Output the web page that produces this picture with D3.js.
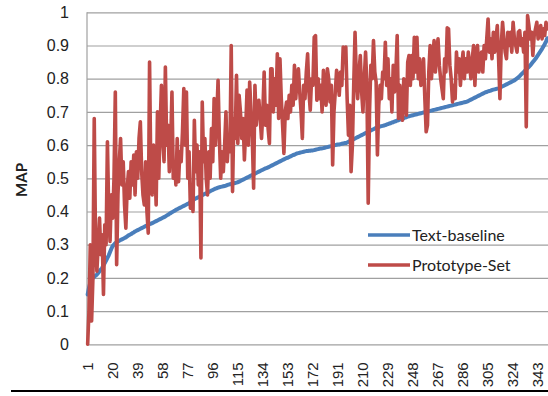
<!DOCTYPE html>
<html>
<head>
<meta charset="utf-8">
<script src="https://cdn.jsdelivr.net/npm/d3@7"></script>
<style>
  html, body { margin: 0; padding: 0; background: #fff; }
  svg { display: block; font-family: Lato, "Open Sans", sans-serif; }
</style>
</head>
<body>
<div id="chart"></div>
<script>
// Sorted text-baseline MAP per query (350 queries)
const textBaseline = [
  0.150,0.170,0.185,0.195,0.200,0.203,0.207,0.210,0.215,0.220,
  0.225,0.230,0.238,0.245,0.252,0.260,0.268,0.278,0.288,0.296,
  0.300,0.305,0.308,0.310,0.312,0.314,0.316,0.318,0.320,0.322,
  0.325,0.328,0.330,0.332,0.335,0.337,0.340,0.342,0.344,0.346,
  0.348,0.350,0.352,0.354,0.356,0.358,0.360,0.362,0.363,0.365,
  0.367,0.369,0.371,0.373,0.375,0.377,0.379,0.381,0.383,0.385,
  0.388,0.390,0.393,0.395,0.398,0.400,0.402,0.405,0.407,0.409,
  0.411,0.413,0.415,0.417,0.419,0.421,0.423,0.425,0.428,0.431,
  0.435,0.437,0.439,0.441,0.443,0.445,0.447,0.449,0.451,0.453,
  0.455,0.457,0.459,0.461,0.463,0.465,0.467,0.469,0.470,0.472,
  0.473,0.474,0.475,0.476,0.477,0.478,0.480,0.481,0.482,0.483,
  0.484,0.485,0.486,0.487,0.488,0.490,0.492,0.494,0.496,0.498,
  0.500,0.502,0.504,0.506,0.508,0.510,0.512,0.514,0.516,0.518,
  0.520,0.522,0.524,0.526,0.528,0.530,0.531,0.533,0.535,0.537,
  0.539,0.541,0.543,0.545,0.547,0.549,0.551,0.553,0.555,0.557,
  0.559,0.561,0.562,0.564,0.566,0.568,0.570,0.571,0.573,0.575,
  0.576,0.577,0.578,0.579,0.580,0.581,0.582,0.582,0.583,0.583,
  0.584,0.584,0.585,0.586,0.587,0.588,0.589,0.590,0.590,0.591,
  0.592,0.593,0.594,0.595,0.596,0.597,0.598,0.599,0.600,0.601,
  0.602,0.602,0.603,0.604,0.605,0.606,0.606,0.608,0.610,0.612,
  0.614,0.616,0.618,0.620,0.622,0.624,0.626,0.628,0.630,0.632,
  0.634,0.636,0.638,0.640,0.642,0.644,0.646,0.648,0.650,0.652,
  0.654,0.655,0.656,0.657,0.658,0.659,0.660,0.662,0.663,0.665,
  0.666,0.668,0.669,0.671,0.672,0.674,0.675,0.677,0.678,0.680,
  0.681,0.683,0.684,0.686,0.687,0.688,0.689,0.690,0.691,0.692,
  0.693,0.694,0.695,0.696,0.697,0.698,0.699,0.700,0.701,0.702,
  0.703,0.704,0.705,0.706,0.707,0.708,0.709,0.710,0.711,0.712,
  0.713,0.714,0.715,0.716,0.717,0.718,0.719,0.720,0.721,0.722,
  0.723,0.724,0.725,0.726,0.727,0.728,0.729,0.730,0.731,0.733,
  0.735,0.737,0.739,0.741,0.743,0.745,0.747,0.749,0.751,0.753,
  0.755,0.757,0.759,0.760,0.762,0.763,0.764,0.766,0.767,0.768,
  0.769,0.770,0.771,0.773,0.775,0.777,0.779,0.781,0.783,0.785,
  0.787,0.789,0.791,0.793,0.795,0.798,0.801,0.804,0.808,0.812,
  0.816,0.820,0.824,0.828,0.832,0.836,0.840,0.845,0.850,0.855,
  0.860,0.866,0.872,0.878,0.884,0.890,0.897,0.904,0.912,0.922
];

// Prototype-Set MAP for the same queries
const prototypeSet = [
  0.00,0.10,0.30,0.07,0.20,0.68,0.30,0.22,0.30,0.38,
  0.27,0.33,0.15,0.36,0.30,0.61,0.40,0.31,0.45,0.38,
  0.50,0.76,0.24,0.45,0.55,0.62,0.48,0.55,0.42,0.35,
  0.47,0.52,0.44,0.55,0.48,0.57,0.45,0.58,0.50,0.62,
  0.67,0.52,0.45,0.42,0.55,0.40,0.335,0.85,0.50,0.45,
  0.60,0.55,0.42,0.70,0.50,0.65,0.78,0.62,0.55,0.835,
  0.60,0.66,0.52,0.60,0.76,0.50,0.55,0.48,0.62,0.49,
  0.58,0.55,0.64,0.77,0.60,0.76,0.50,0.58,0.41,0.45,
  0.40,0.675,0.52,0.60,0.48,0.58,0.26,0.73,0.55,0.62,
  0.50,0.45,0.58,0.50,0.65,0.55,0.74,0.60,0.68,0.795,
  0.62,0.50,0.58,0.52,0.60,0.70,0.55,0.62,0.58,0.90,
  0.46,0.68,0.62,0.81,0.605,0.75,0.70,0.62,0.68,0.555,
  0.65,0.766,0.60,0.79,0.70,0.62,0.47,0.78,0.66,0.72,
  0.735,0.68,0.62,0.70,0.82,0.66,0.72,0.65,0.605,0.83,
  0.83,0.70,0.80,0.72,0.875,0.68,0.86,0.74,0.66,0.575,
  0.70,0.73,0.68,0.75,0.70,0.78,0.72,0.84,0.74,0.80,
  0.83,0.76,0.70,0.62,0.78,0.74,0.82,0.875,0.76,0.705,
  0.80,0.78,0.925,0.93,0.735,0.80,0.74,0.78,0.70,0.825,
  0.76,0.72,0.83,0.80,0.73,0.78,0.54,0.70,0.76,0.825,
  0.80,0.75,0.82,0.78,0.895,0.86,0.895,0.74,0.63,0.72,
  0.52,0.60,0.78,0.94,0.80,0.74,0.82,0.87,0.76,0.70,
  0.80,0.88,0.78,0.425,0.70,0.84,0.80,0.915,0.82,0.79,
  0.57,0.72,0.78,0.74,0.82,0.80,0.91,0.78,0.86,0.74,
  0.80,0.70,0.84,0.76,0.82,0.93,0.68,0.78,0.70,0.675,
  0.80,0.74,0.69,0.85,0.87,0.78,0.87,0.80,0.925,0.82,
  0.925,0.80,0.86,0.78,0.80,0.86,0.74,0.64,0.66,0.82,
  0.90,0.80,0.86,0.915,0.82,0.88,0.92,0.84,0.80,0.77,
  0.74,0.86,0.82,0.953,0.95,0.84,0.80,0.73,0.78,0.74,
  0.88,0.82,0.86,0.78,0.84,0.88,0.80,0.86,0.82,0.88,
  0.84,0.80,0.86,0.90,0.78,0.88,0.90,0.82,0.85,0.88,
  0.82,0.90,0.86,0.92,0.98,0.88,0.92,0.86,0.94,0.88,
  0.92,0.96,0.86,0.74,0.90,0.97,0.92,0.88,0.86,0.94,
  0.90,0.94,0.88,0.97,0.92,0.90,0.88,0.94,0.945,0.90,
  0.92,0.88,0.94,0.655,0.99,0.96,0.92,0.94,0.87,0.93,
  0.95,0.97,0.92,0.94,0.96,0.92,0.95,0.93,0.97,0.95
];

const categories = d3.range(1, textBaseline.length + 1);
const xTickLabels = [1, 20, 39, 58, 77, 96, 115, 134, 153, 172, 191, 210, 229, 248, 267, 286, 305, 324, 343];
const yTicks = [0, 0.1, 0.2, 0.3, 0.4, 0.5, 0.6, 0.7, 0.8, 0.9, 1];

const series = [
  { name: 'Text-baseline', values: textBaseline, color: '#4a7ebb', width: 4 },
  { name: 'Prototype-Set', values: prototypeSet, color: '#be4b48', width: 3.6 }
];

const width = 548, height = 396;
const plot = { left: 87, right: 548, top: 12.3, bottom: 344.3 };

const svg = d3.select('#chart').append('svg')
  .attr('width', width)
  .attr('height', height);

const x = d3.scaleBand()
  .domain(categories)
  .range([plot.left, plot.right])
  .paddingInner(0);
const xc = (c) => x(c) + x.bandwidth() / 2;

const y = d3.scaleLinear().domain([0, 1]).range([plot.bottom, plot.top]);

// Gridlines + y axis
const yAxis = svg.append('g')
  .attr('transform', `translate(${plot.left},0)`)
  .call(d3.axisLeft(y)
    .tickValues(yTicks)
    .tickSize(-(plot.right - plot.left))
    .tickPadding(18)
    .tickFormat(d3.format('')));
yAxis.select('.domain').remove();
yAxis.selectAll('.tick line').attr('stroke', '#a0a0a0').attr('stroke-width', 1.2);
yAxis.selectAll('.tick text')
  .attr('font-size', 16)
  .attr('fill', '#222');

// Left axis line
svg.append('line')
  .attr('x1', plot.left).attr('x2', plot.left)
  .attr('y1', plot.top).attr('y2', plot.bottom)
  .attr('stroke', '#a0a0a0').attr('stroke-width', 1.2);

// X axis labels (rotated)
const xAxis = svg.append('g')
  .attr('transform', `translate(0,${plot.bottom})`)
  .call(d3.axisBottom(x)
    .tickValues(xTickLabels)
    .tickSize(0)
    .tickPadding(0));
xAxis.select('.domain').remove();
xAxis.selectAll('.tick text')
  .attr('font-size', 15)
  .attr('fill', '#222')
  .attr('text-anchor', 'end')
  .attr('transform', 'rotate(-90)')
  .attr('x', -18)
  .attr('y', 0)
  .attr('dy', '0.35em');

// Lines
const line = d3.line()
  .x((d, i) => xc(categories[i]))
  .y((d) => y(d));

series.forEach((s) => {
  svg.append('path')
    .datum(s.values)
    .attr('fill', 'none')
    .attr('stroke', s.color)
    .attr('stroke-width', s.width)
    .attr('stroke-linejoin', 'round')
    .attr('stroke-linecap', 'round')
    .attr('d', line);
});

// Y axis title
svg.append('text')
  .attr('transform', 'translate(27,180) rotate(-90)')
  .attr('text-anchor', 'middle')
  .attr('font-size', 15)
  .attr('font-weight', 'bold')
  .attr('fill', '#222')
  .text('MAP');

// Legend
const legend = svg.append('g').attr('transform', 'translate(368,235)');
series.forEach((s, i) => {
  const g = legend.append('g').attr('transform', `translate(0,${i * 30})`);
  g.append('line')
    .attr('x1', 0).attr('x2', 42)
    .attr('stroke', s.color)
    .attr('stroke-width', 3.5);
  g.append('text')
    .attr('x', 44)
    .attr('dy', '0.35em')
    .attr('font-size', 16)
    .attr('fill', '#222')
    .text(s.name);
});

// Page border line under the figure
svg.append('line')
  .attr('x1', 11).attr('x2', width)
  .attr('y1', 391).attr('y2', 391)
  .attr('stroke', '#000')
  .attr('stroke-width', 2);
</script>
</body>
</html>
